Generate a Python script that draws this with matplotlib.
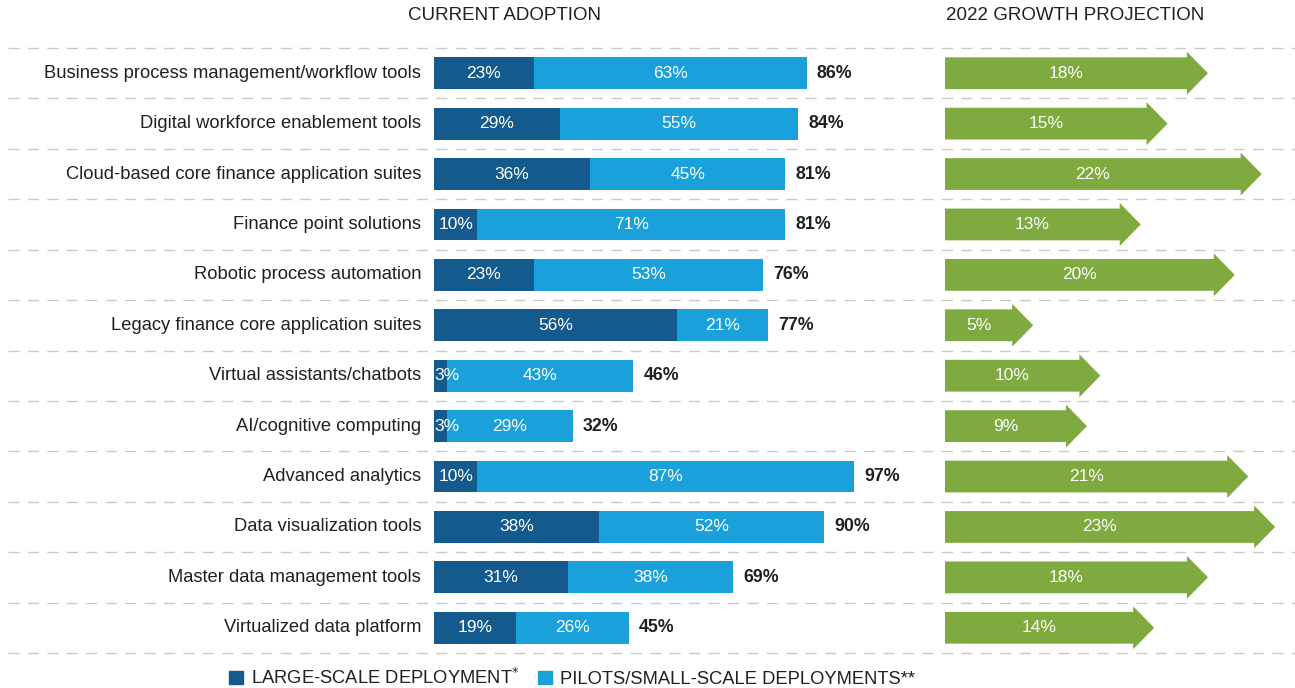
"""Current adoption vs 2022 growth projection of finance technologies."""

import matplotlib
matplotlib.use('Agg')
import matplotlib.pyplot as plt
from matplotlib.patches import Polygon, Patch
import numpy as np

categories = [
    'Business process management/workflow tools',
    'Digital workforce enablement tools',
    'Cloud-based core finance application suites',
    'Finance point solutions',
    'Robotic process automation',
    'Legacy finance core application suites',
    'Virtual assistants/chatbots',
    'AI/cognitive computing',
    'Advanced analytics',
    'Data visualization tools',
    'Master data management tools',
    'Virtualized data platform',
]
large_scale = [23, 29, 36, 10, 23, 56, 3, 3, 10, 38, 31, 19]
pilots = [63, 55, 45, 71, 53, 21, 43, 29, 87, 52, 38, 26]
totals = [86, 84, 81, 81, 76, 77, 46, 32, 97, 90, 69, 45]
growth = [18, 15, 22, 13, 20, 5, 10, 9, 21, 23, 18, 14]

DARK = '#155a8c'
LIGHT = '#1aa1db'
GREEN = '#7eaa3f'
TEXT = '#231f20'
GRID = '#c9c9c9'

plt.rcParams['font.family'] = ['Liberation Sans', 'DejaVu Sans']

W, H = 1295, 688
fig = plt.figure(figsize=(W / 100, H / 100), dpi=100)

n = len(categories)
y = np.arange(n)
bottom = 1 - 653 / H
height = 605 / H

# background axes for the dashed row separators
bg = fig.add_axes([8 / W, bottom, 1 - 8 / W, height])
bg.set_xlim(0, 1)
bg.set_ylim(n - 0.5, -0.5)
for yy in np.arange(-0.5, n, 1.0):
    bg.axhline(yy, color=GRID, linewidth=1.0, linestyle=(0, (8, 6)), clip_on=False)
bg.axis('off')

# current adoption stacked bars
ax = fig.add_axes([434 / W, bottom, 466 / W, height])
ax.set_xlim(0, 466 / 4.335)
ax.set_ylim(n - 0.5, -0.5)
bh = 0.63
ax.barh(y, large_scale, height=bh, color=DARK, linewidth=0)
ax.barh(y, pilots, left=large_scale, height=bh, color=LIGHT, linewidth=0)
for i in range(n):
    ls, pl, tot = large_scale[i], pilots[i], totals[i]
    if ls < 6:
        ax.text(0, i, f'{ls}%', ha='left', va='center', color='white', fontsize=12.5)
    else:
        ax.text(ls / 2, i, f'{ls}%', ha='center', va='center', color='white', fontsize=12.5)
    ax.text(ls + pl / 2, i, f'{pl}%', ha='center', va='center', color='white', fontsize=12.5)
    ax.text(ls + pl + 2.3, i, f'{tot}%', ha='left', va='center', color=TEXT,
            fontsize=12.8, fontweight='bold')
    ax.text(-13 / 4.335, i, categories[i], ha='right', va='center', color=TEXT,
            fontsize=13.2)
ax.axis('off')

# growth projection arrows
ax2 = fig.add_axes([945 / W, bottom, 350 / W, height])
ax2.set_xlim(0, 350 / 13.44)
ax2.set_ylim(n - 0.5, -0.5)
head_len = 21 / 13.44
head_w = 0.85
for i, g in enumerate(growth):
    pts = [(0, i - bh / 2), (g, i - bh / 2), (g, i - head_w / 2), (g + head_len, i),
           (g, i + head_w / 2), (g, i + bh / 2), (0, i + bh / 2)]
    ax2.add_patch(Polygon(pts, closed=True, facecolor=GREEN, edgecolor='none'))
    ax2.text(g / 2, i, f'{g}%', ha='center', va='center', color='white', fontsize=12.5)
ax2.axis('off')

# column titles
fig.text(505 / W, 1 - 15 / H, 'CURRENT ADOPTION', ha='center', va='center',
         color=TEXT, fontsize=13.5)
fig.text(946 / W, 1 - 15 / H, '2022 GROWTH PROJECTION', ha='left', va='center',
         color=TEXT, fontsize=13.5)

handles = [Patch(color=DARK, label='LARGE-SCALE DEPLOYMENT$^{*}$'),
           Patch(color=LIGHT, label='PILOTS/SMALL-SCALE DEPLOYMENTS**')]
fig.legend(handles=handles, ncol=2, frameon=False, loc='center',
           bbox_to_anchor=(572 / W, 1 - 678 / H), fontsize=13.2,
           handlelength=0.75, handleheight=0.75, handletextpad=0.45,
           columnspacing=1.0, labelcolor=TEXT)

plt.savefig('out.png', dpi=100)
plt.close()
